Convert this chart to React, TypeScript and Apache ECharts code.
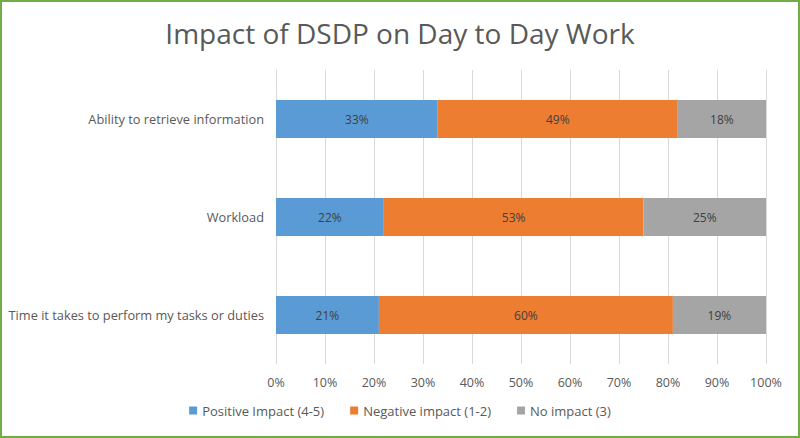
import React, { useEffect, useRef } from "react";
import * as echarts from "echarts";

const categories = [
  "Ability to retrieve information",
  "Workload",
  "Time it takes to perform my tasks or duties",
];
const positive = [33, 22, 21];
const negative = [49, 53, 60];
const noImpact = [18, 25, 19];
const seriesNames = ["Positive Impact (4-5)", "Negative impact (1-2)", "No impact (3)"];
const colors = ["#5B9BD5", "#ED7D31", "#A5A5A5"];

export default function App() {
  const ref = useRef<HTMLDivElement>(null);
  useEffect(() => {
    if (!ref.current) return;
    const chart = echarts.init(ref.current, null, { renderer: "svg" });
    const font = "Open Sans, Liberation Sans, sans-serif";
    const mk = (name: string, data: number[], color: string) => ({
      name,
      type: "bar",
      stack: "total",
      data,
      barWidth: 38,
      itemStyle: { color },
      label: {
        show: true,
        position: "inside",
        formatter: "{c}%",
        color: "#404040",
        fontSize: 12,
        fontFamily: font,
      },
    });
    chart.setOption({
      animation: false,
      title: {
        text: "Impact of DSDP on Day to Day Work",
        left: "center",
        top: 14,
        textStyle: { fontSize: 28, fontWeight: "normal", color: "#595959", fontFamily: font },
      },
      legend: {
        bottom: 16,
        left: "center",
        itemWidth: 8,
        itemHeight: 8,
        itemGap: 26,
        icon: "rect",
        textStyle: { color: "#595959", fontSize: 13, fontFamily: font },
        data: seriesNames,
      },
      grid: { left: 276, right: 34, top: 70, bottom: 74 },
      xAxis: {
        type: "value",
        min: 0,
        max: 100,
        interval: 10,
        axisLabel: { formatter: "{value}%", color: "#595959", fontSize: 12.5, fontFamily: font, margin: 12 },
        axisLine: { show: false },
        axisTick: { show: false },
        splitLine: { lineStyle: { color: "#D9D9D9" } },
      },
      yAxis: {
        type: "category",
        inverse: true,
        data: categories,
        axisLabel: { color: "#595959", fontSize: 12.8, fontFamily: font, margin: 12 },
        axisLine: { show: true, lineStyle: { color: "#D9D9D9" } },
        axisTick: { show: false },
      },
      series: [
        mk(seriesNames[0], positive, colors[0]),
        mk(seriesNames[1], negative, colors[1]),
        mk(seriesNames[2], noImpact, colors[2]),
      ],
    });
    return () => chart.dispose();
  }, []);
  return (
    <div
      style={{
        position: "absolute",
        left: 0,
        top: 0,
        width: 800,
        height: 438,
        boxSizing: "border-box",
        border: "2px solid #70AD47",
        background: "#fff",
      }}
    >
      <div ref={ref} style={{ position: "absolute", left: -2, top: -2, width: 800, height: 438 }} />
    </div>
  );
}
